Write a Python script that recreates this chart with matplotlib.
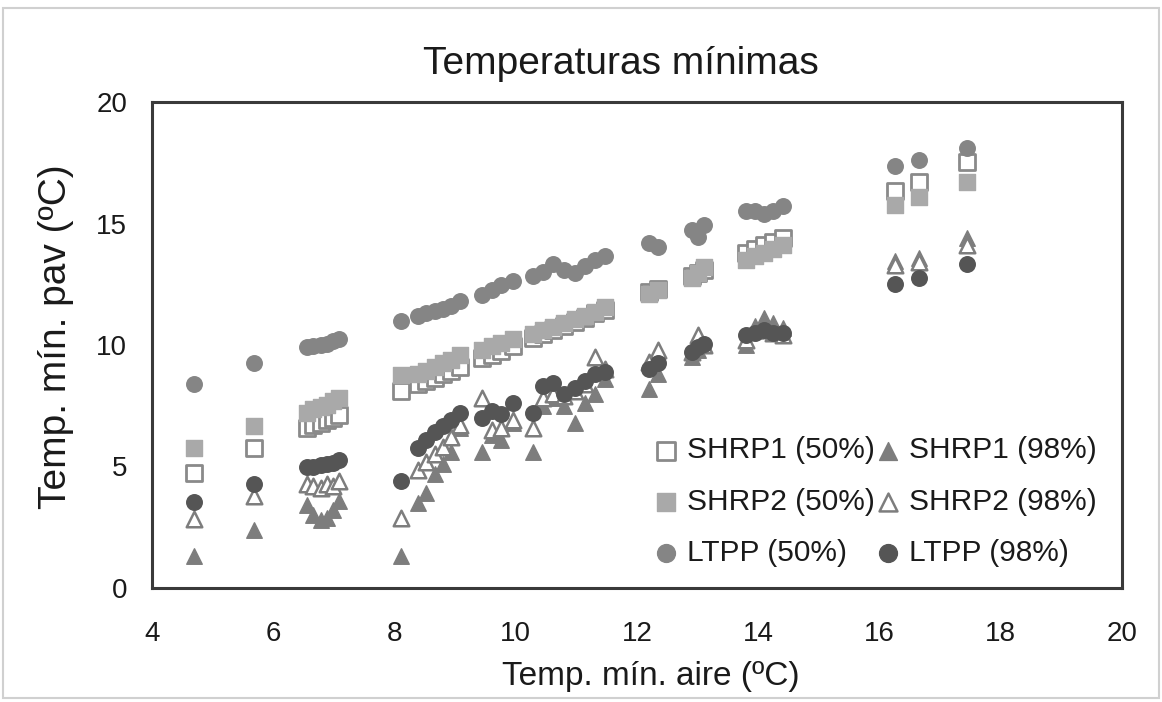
import matplotlib
matplotlib.use("Agg")
import matplotlib.pyplot as plt
from matplotlib.patches import Rectangle

plt.rcParams['font.family'] = ['Liberation Sans', 'DejaVu Sans']

# Air minimum temperature (x) for each station
air_min = [4.7, 5.68,
           6.55, 6.65, 6.78, 6.88, 6.98, 7.08,
           8.1,
           8.38, 8.52, 8.66, 8.8, 8.94, 9.08,
           9.45, 9.6, 9.75, 9.95,
           10.28, 10.45, 10.62, 10.8, 10.97, 11.14, 11.3, 11.47,
           12.2, 12.35,
           12.9, 13.0, 13.1,
           13.8, 13.95, 14.1, 14.25, 14.4,
           16.25, 16.65, 17.45]

shrp1_50 = [4.75, 5.75,
            6.6, 6.7, 6.8, 6.9, 7.0, 7.1,
            8.1,
            8.4, 8.5, 8.65, 8.8, 8.95, 9.1,
            9.45, 9.6, 9.75, 9.95,
            10.3, 10.45, 10.6, 10.8, 10.95, 11.1, 11.3, 11.45,
            12.2, 12.3,
            12.85, 12.95, 13.1,
            13.8, 13.95, 14.1, 14.25, 14.4,
            16.35, 16.7, 17.55]

shrp2_50 = [5.75, 6.65,
            7.2, 7.35, 7.45, 7.55, 7.7, 7.8,
            8.75,
            8.8, 8.95, 9.1, 9.25, 9.4, 9.6,
            9.8, 9.95, 10.1, 10.25,
            10.45, 10.6, 10.75, 10.9, 11.05, 11.2, 11.35, 11.55,
            12.1, 12.25,
            12.75, 12.95, 13.2,
            13.5, 13.65, 13.8, 13.95, 14.1,
            15.75, 16.1, 16.7]

ltpp_50 = [8.4, 9.25,
           9.9, 9.95, 10.0, 10.05, 10.15, 10.25,
           11.0,
           11.2, 11.3, 11.4, 11.5, 11.6, 11.8,
           12.05, 12.25, 12.45, 12.65,
           12.85, 13.0, 13.35, 13.1, 12.95, 13.25, 13.5, 13.65,
           14.2, 14.05,
           14.75, 14.45, 14.95,
           15.5, 15.5, 15.4, 15.5, 15.7,
           17.35, 17.6, 18.1]

shrp1_98 = [1.3, 2.4,
            3.4, 3.0, 2.8, 2.9, 3.2, 3.6,
            1.3,
            3.5, 3.9, 4.7, 5.1, 5.6, 6.6,
            5.6, 6.3, 6.1, 6.8,
            5.6, 7.5, 7.8, 7.5, 6.8, 7.6, 8.0, 8.6,
            8.2, 8.8,
            9.5, 9.8, 10.0,
            10.0, 10.8, 11.1, 10.9, 10.7,
            13.45, 13.6, 14.4]

shrp2_98 = [2.85, 3.8,
            4.3, 4.2, 4.1, 4.3, 4.2, 4.4,
            2.9,
            4.85, 5.2, 5.5, 5.8, 6.2, 6.7,
            7.8, 6.5, 6.6, 6.9,
            6.6, 7.8, 8.0, 7.9, 8.1, 8.4, 9.5, 9.0,
            9.3, 9.8,
            9.7, 10.4, 10.0,
            10.2, 10.6, 10.6, 10.5, 10.4,
            13.3, 13.4, 14.1]

ltpp_98 = [3.55, 4.3,
           5.0, 5.0, 5.05, 5.1, 5.15, 5.25,
           4.4,
           5.75, 6.1, 6.4, 6.65, 6.9, 7.2,
           7.0, 7.3, 7.15, 7.6,
           7.2, 8.3, 8.45, 8.0, 8.25, 8.5, 8.8, 8.9,
           9.0, 9.25,
           9.7, 9.9, 10.05,
           10.4, 10.5, 10.6, 10.5, 10.5,
           12.5, 12.75, 13.35]

series_labels = ["SHRP1 (50%)", "SHRP1 (98%)", "SHRP2 (50%)",
                 "SHRP2 (98%)", "LTPP (50%)", "LTPP (98%)"]
title = "Temperaturas mínimas"
xlabel = "Temp. mín. aire (ºC)"
ylabel = "Temp. mín. pav (ºC)"
x_ticks = [4, 6, 8, 10, 12, 14, 16, 18, 20]
y_ticks = [0, 5, 10, 15, 20]

W, H = 1162, 702
fig = plt.figure(figsize=(W / 100, H / 100), dpi=100)
ax = fig.add_axes([152 / W, 1 - 588 / H, (1122 - 152) / W, (588 - 102) / H])

ms = 125
styles = {
    "SHRP1 (50%)": dict(marker='s', facecolor='white', edgecolor='#8a8a8a', linewidths=2.0),
    "SHRP1 (98%)": dict(marker='^', facecolor='#7d7d7d', edgecolor='#7d7d7d', linewidths=1),
    "SHRP2 (50%)": dict(marker='s', facecolor='#a9a9a9', edgecolor='#a9a9a9', linewidths=1),
    "SHRP2 (98%)": dict(marker='^', facecolor='white', edgecolor='#7d7d7d', linewidths=1.8),
    "LTPP (50%)": dict(marker='o', facecolor='#858585', edgecolor='#858585', linewidths=1),
    "LTPP (98%)": dict(marker='o', facecolor='#555555', edgecolor='#555555', linewidths=1),
}
data = {
    "SHRP1 (50%)": shrp1_50, "SHRP1 (98%)": shrp1_98,
    "SHRP2 (50%)": shrp2_50, "SHRP2 (98%)": shrp2_98,
    "LTPP (50%)": ltpp_50, "LTPP (98%)": ltpp_98,
}
handles = {}
for i, lab in enumerate(series_labels):
    handles[lab] = ax.scatter(air_min, data[lab], s=ms, label=lab, zorder=3 + i, **styles[lab])

ax.set_xlim(4, 20)
ax.set_ylim(0, 20)
ax.set_xticks(x_ticks)
ax.set_yticks(y_ticks)
ax.tick_params(length=0, labelsize=20, colors='#1a1a1a')
ax.tick_params(axis='x', pad=24)
ax.tick_params(axis='y', pad=18)
for sp in ax.spines.values():
    sp.set_color('#3a3a3a')
    sp.set_linewidth(2.2)

fig.text(621 / W, 1 - 64 / H, title, fontsize=28, ha='center', va='center', color='#1a1a1a')
fig.text(651 / W, 1 - 676 / H, xlabel, fontsize=24, ha='center', va='center', color='#1a1a1a')
fig.text(56 / W, 1 - 337 / H, ylabel, fontsize=28, ha='center', va='center',
         rotation=90, color='#1a1a1a')

order = ["SHRP1 (50%)", "SHRP2 (50%)", "LTPP (50%)",
         "SHRP1 (98%)", "SHRP2 (98%)", "LTPP (98%)"]
leg = ax.legend([handles[k] for k in order], order, ncol=2, loc='lower right',
                bbox_to_anchor=(1112 / W, 1 - 582 / H), bbox_transform=fig.transFigure,
                frameon=False, fontsize=21.5, borderpad=0,
                handletextpad=0.25, columnspacing=0.0, labelspacing=0.78,
                markerscale=1.15, handlelength=0.9)
for t in leg.get_texts():
    t.set_color('#1a1a1a')

fig.patches.append(Rectangle((3 / W, 4 / H), 1156 / W, 690 / H,
                             transform=fig.transFigure, fill=False,
                             edgecolor='#d0d0d0', linewidth=1.5))

fig.savefig("out.png", dpi=100)
